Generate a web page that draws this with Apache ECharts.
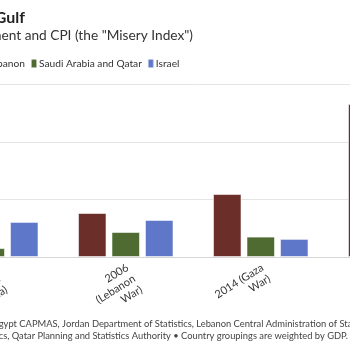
<!DOCTYPE html>
<html>
<head>
<meta charset="utf-8">
<script src="https://cdn.jsdelivr.net/npm/echarts@6/dist/echarts.min.js"></script>
<style>
  html, body { margin: 0; padding: 0; width: 350px; height: 350px; overflow: hidden; background: #fff; }
  #chart { position: absolute; left: -120px; top: 0; width: 620px; height: 350px; }
</style>
</head>
<body>
<div id="chart"></div>
<script>
// data (misery index = unemployment + CPI, %)
const years = ['2000\n(Second\nIntifada)', '2006\n(Lebanon\nWar)', '2014 (Gaza\nWar)', '2023']
const levant = [14.0, 15.3, 21.9, 53.2]
const gulf = [3.1, 8.7, 7.1, 5.0]
const israel = [12.2, 12.9, 6.3, 8.0]
const seriesNames = ['Egypt, Jordan and Lebanon', 'Saudi Arabia and Qatar', 'Israel']
const colors = ['#6b2e29', '#4f6b31', '#5f77c8']

const FONT = 'Lato, "Open Sans", sans-serif'
const OFFSET = 120 // the chart div starts 120px left of the window

// text width helper, used to place the cropped texts
const measureCtx = document.createElement('canvas').getContext('2d')
function textWidth(str, font) {
  measureCtx.font = font
  return measureCtx.measureText(str).width
}

const legendFont = '10.2px ' + FONT
const firstItem = 6 + 2 + textWidth(seriesNames[0], legendFont)
const legendLeft = OFFSET + 29 - 5 - firstItem

const srcFont = '9.35px ' + FONT
const src1 = 'Sources: IMF, Egypt CAPMAS, Jordan Department of Statistics, Lebanon Central Administration of Statistics, Israel CBS,'
const src1Left = OFFSET - 6.5 - textWidth('Sources: IMF, ', srcFont)

const chart = echarts.init(document.getElementById('chart'))

function barSeries(name, data, color) {
  return {
    name: name,
    type: 'bar',
    data: data,
    barWidth: 28.5,
    barGap: '17.5%',
    itemStyle: {
      color: color,
      borderColor: 'rgba(255,255,255,0.55)',
      borderWidth: 1
    }
  }
}

chart.setOption({
  animation: false,
  textStyle: {fontFamily: FONT},
  graphic: [
    {
      type: 'text', x: OFFSET + 25, y: 17.5,
      style: {text: 'Misery in the Levant vs. the Gulf', align: 'right', verticalAlign: 'middle',
        font: 'bold 16px ' + FONT, fill: '#222'}
    },
    {
      type: 'text', x: OFFSET + 193, y: 36,
      style: {text: 'Sum of unemployment and CPI (the "Misery Index")', align: 'right', verticalAlign: 'middle',
        font: '13.7px ' + FONT, fill: '#333'}
    },
    {
      type: 'text', x: src1Left, y: 324,
      style: {text: src1, align: 'left', verticalAlign: 'middle', font: srcFont, fill: '#444'}
    },
    {
      type: 'text', x: OFFSET + 348, y: 336,
      style: {text: 'Saudi General Authority for Statistics, Qatar Planning and Statistics Authority \u2022 Country groupings are weighted by GDP.',
        align: 'right', verticalAlign: 'middle', font: srcFont, fill: '#444'}
    }
  ],
  legend: {
    data: seriesNames,
    left: legendLeft,
    top: 58,
    width: 600,
    padding: 0,
    itemGap: 5,
    itemWidth: 6,
    itemHeight: 9,
    icon: 'roundRect',
    textStyle: {fontSize: 10.2, color: '#333', fontFamily: FONT, padding: [0, 0, 0, -3]}
  },
  grid: {
    left: 43.25,
    right: 36.75,
    top: 84.5,
    bottom: 93
  },
  xAxis: {
    type: 'category',
    data: years,
    axisLine: {lineStyle: {color: '#d6d6d6'}},
    axisTick: {alignWithLabel: true, length: 4, lineStyle: {color: '#cfcfcf'}},
    axisLabel: {
      rotate: 32, interval: 0, fontSize: 11, color: '#333', lineHeight: 13,
      margin: 3, verticalAlign: 'top', padding: [0, 2, 0, 0], fontFamily: FONT
    }
  },
  yAxis: {
    type: 'value',
    min: 0,
    max: 60,
    interval: 20,
    axisLabel: {fontSize: 11, color: '#555'},
    splitLine: {lineStyle: {color: '#e4e4e4'}}
  },
  series: [
    barSeries(seriesNames[0], levant, colors[0]),
    barSeries(seriesNames[1], gulf, colors[1]),
    barSeries(seriesNames[2], israel, colors[2])
  ]
})
</script>
</body>
</html>
